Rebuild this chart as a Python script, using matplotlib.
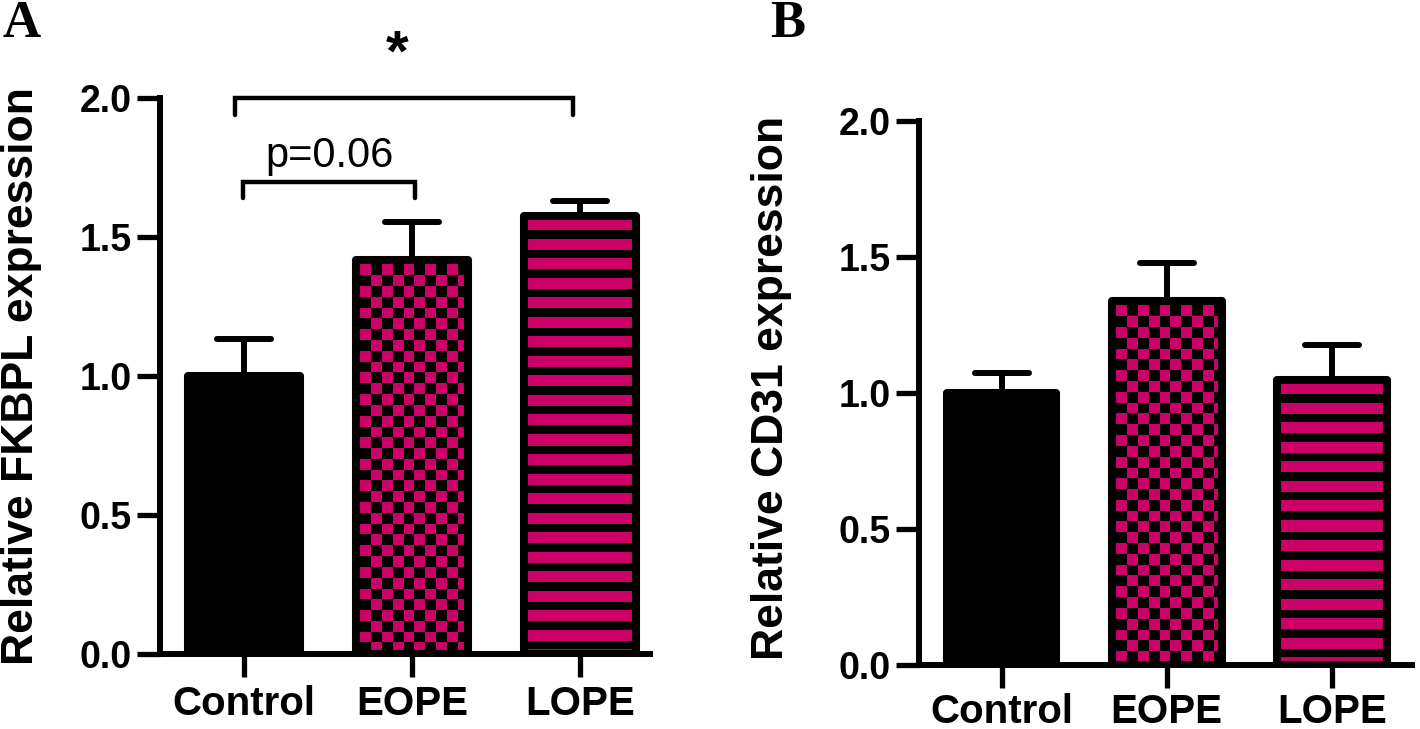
import numpy as np
import matplotlib
matplotlib.use("Agg")
import matplotlib.pyplot as plt
from matplotlib.markers import MarkerStyle

# ---------------- data ----------------
categories = ["Control", "EOPE", "LOPE"]
fkbpl_mean = [1.00, 1.417, 1.576]
fkbpl_err = [0.133, 0.137, 0.053]
cd31_mean = [1.00, 1.338, 1.048]
cd31_err = [0.074, 0.141, 0.130]
yticks = [0.0, 0.5, 1.0, 1.5, 2.0]
ytick_labels = ["0.0", "0.5", "1.0", "1.5", "2.0"]
patterns = ["solid", "checker", "stripes"]
ylabel_a = "Relative FKBPL expression"
ylabel_b = "Relative CD31 expression"
sig_star_pair = (0, 2)
sig_p_pair = (0, 1)
p_text = "p=0.06"
star_text = "*"

# ---------------- style ----------------
DPI = 100
W_PX, H_PX = 1420, 729
MAGENTA = np.array([204, 0, 102]) / 255.0
SANS = ["Liberation Sans", "Arial", "DejaVu Sans"]
SERIF = ["Liberation Serif", "Times New Roman", "DejaVu Serif"]
plt.rcParams["font.family"] = SANS

fig = plt.figure(figsize=(W_PX / DPI, H_PX / DPI), dpi=DPI)


def px_rect(left, right, bottom, top):
    return [left / W_PX, 1 - bottom / H_PX, (right - left) / W_PX, (bottom - top) / H_PX]


ax_a = fig.add_axes(px_rect(160, 650, 654, 98))
ax_b = fig.add_axes(px_rect(919, 1412, 665, 121))

BAR_W = 0.665
EDGE_LW = 5.8


def add_pattern(ax, bar, kind):
    if kind == "solid":
        return
    x0, y0 = bar.get_x(), bar.get_y()
    w, h = bar.get_width(), bar.get_height()
    p0 = ax.transData.transform((x0, y0))
    p1 = ax.transData.transform((x0 + w, y0 + h))
    Wp = int(round(abs(p1[0] - p0[0])))
    Hp = int(round(abs(p1[1] - p0[1])))
    jj, ii = np.meshgrid(np.arange(Wp), np.arange(Hp))
    if kind == "checker":
        cell = 10.8
        mask = ((np.floor((ii - 4) / cell) + np.floor((jj - 4) / cell)) % 2) == 0
    else:
        period = 19.5
        mag = 11
        mask = ((ii - 4) % period) < mag
    img = np.zeros((Hp, Wp, 3))
    img[mask] = MAGENTA
    im = ax.imshow(img, extent=(x0, x0 + w, y0, y0 + h), origin="upper",
                   interpolation="nearest", aspect="auto", zorder=2.5)
    im.set_clip_path(bar)


def panel(ax, means, errs, xlim, ylabel, label_x, label_y, xpad):
    x = np.arange(len(categories))
    ax.set_xlim(*xlim)
    ax.set_ylim(0, 2.0)
    eb = ax.errorbar(x, means, yerr=[np.zeros(len(errs)), errs], fmt="none",
                     ecolor="black", elinewidth=4.3, capsize=19.5, capthick=4.3,
                     zorder=1.5)
    for cap in eb.lines[1]:
        cap.set_marker(MarkerStyle("_", capstyle="round"))
        cap.set_markersize(39)
        cap.set_markeredgewidth(4.3)
    bars = ax.bar(x, means, width=BAR_W, color="black", edgecolor="none", zorder=2)
    for b, kind in zip(bars, patterns):
        add_pattern(ax, b, kind)
    edges = ax.bar(x, means, width=BAR_W, facecolor="none", edgecolor="black",
                   linewidth=EDGE_LW, zorder=3)
    for e in edges:
        e.set_joinstyle("round")
    ax.set_xlim(*xlim)
    ax.set_ylim(0, 2.0)
    ax.set_xticks(x)
    ax.set_xticklabels(categories, fontsize=29, fontweight="bold")
    ax.set_yticks(yticks)
    ax.set_yticklabels(ytick_labels, fontsize=27, fontweight="bold")
    ax.tick_params(axis="both", direction="out", length=16.5, width=3.8, color="black")
    ax.tick_params(axis="x", pad=xpad)
    ax.tick_params(axis="y", pad=4)
    for s in ["top", "right"]:
        ax.spines[s].set_visible(False)
    for s in ["left", "bottom"]:
        ax.spines[s].set_linewidth(4.3)
        ax.spines[s].set_capstyle("projecting")
    ax.set_ylabel(ylabel, fontsize=32, fontweight="bold")
    ax.yaxis.label.set_va("center")
    ax.yaxis.label.set_ha("center")
    ax.yaxis.set_label_coords(label_x, label_y)
    ax.set_facecolor("none")


panel(ax_a, fkbpl_mean, fkbpl_err, (-0.5, 2.417), ylabel_a, (22 - 160) / 490, 0.5, 6)
panel(ax_b, cd31_mean, cd31_err, (-0.5, 2.485), ylabel_b, (772 - 919) / 493, 0.51, 3.5)


def bracket(ax, x1, x2, y, drop):
    ax.plot([x1, x1, x2, x2], [y - drop, y, y, y - drop], color="black", lw=3.2,
            solid_capstyle="round", solid_joinstyle="miter", clip_on=False, zorder=4)


bracket(ax_a, sig_star_pair[0] - 0.054, sig_star_pair[1] - 0.042, 1.999, 0.06)
bracket(ax_a, sig_p_pair[0] - 0.006, sig_p_pair[1] + 0.018, 1.698, 0.058)
ax_a.text(0.911, 2.10, star_text, ha="center", va="baseline", fontsize=42,
          fontweight="bold", clip_on=False)
ax_a.text(0.512, 1.752, p_text, ha="center", va="baseline", fontsize=30,
          clip_on=False)

fig.text(3 / W_PX, 1 - 37 / H_PX, "A", family=SERIF, fontweight="bold", fontsize=38,
         ha="left", va="baseline")
fig.text(770 / W_PX, 1 - 37 / H_PX, "B", family=SERIF, fontweight="bold", fontsize=38,
         ha="left", va="baseline")

fig.savefig("out.png", dpi=DPI)
